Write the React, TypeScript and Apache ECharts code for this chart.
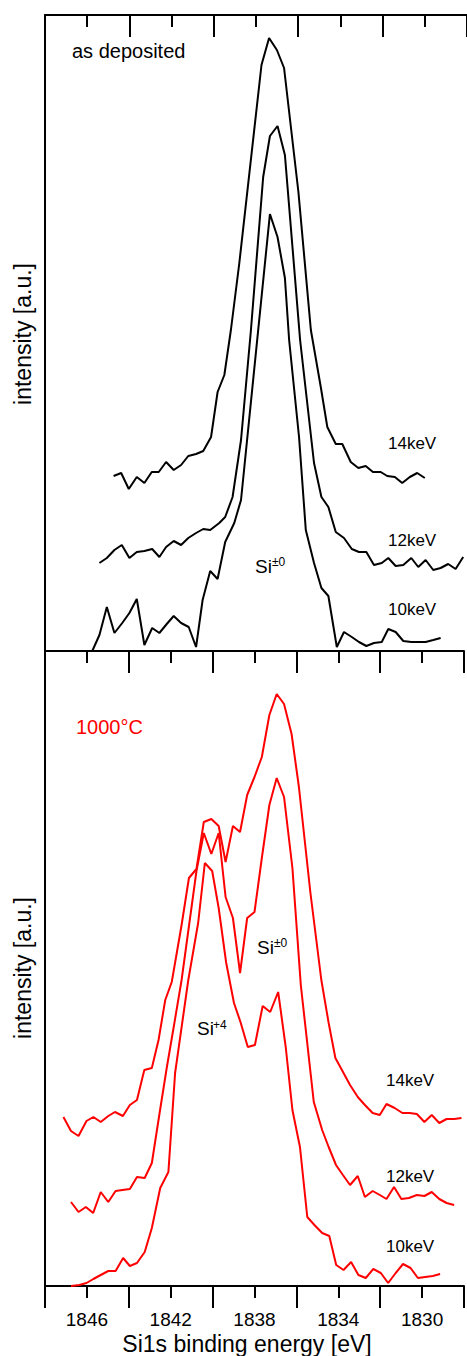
import React, { useEffect, useRef } from "react";
import * as echarts from "echarts";

const FONT = "'Liberation Sans', Arial, Helvetica, sans-serif";
const X_MIN = 1828;
const X_MAX = 1848;
const TOP_Y_MAX = 636;
const BOTTOM_Y_MAX = 635;
const TICK_LABELS = [1846, 1842, 1838, 1834, 1830];

// ---- as deposited (black) : [binding energy eV, intensity a.u.]
const asDep14keV: [number, number][] = [
  [1844.75, 175], [1844.39, 178], [1844.03, 162], [1843.65, 174], [1843.29, 168],
  [1842.94, 179], [1842.61, 179], [1842.26, 189], [1841.9, 181], [1841.55, 186],
  [1841.21, 195], [1840.84, 197], [1840.5, 200], [1840.13, 214], [1839.82, 259],
  [1839.5, 276], [1839.19, 321], [1838.79, 388], [1837.74, 586], [1837.38, 613],
  [1837.01, 601], [1836.67, 583], [1835.99, 459], [1835.4, 321], [1834.93, 264],
  [1834.62, 224], [1834.22, 207], [1833.91, 207], [1833.51, 189], [1833.15, 183],
  [1832.8, 185], [1832.46, 179], [1832.09, 179], [1831.78, 175], [1831.42, 174],
  [1831.07, 168], [1830.71, 174], [1830.36, 178], [1830.0, 173],
];
const asDep12keV: [number, number][] = [
  [1845.42, 88], [1845.07, 93], [1844.71, 101], [1844.36, 106], [1844.0, 93],
  [1843.65, 99], [1843.29, 100], [1842.92, 102], [1842.58, 94], [1842.26, 104],
  [1841.9, 110], [1841.55, 106], [1841.21, 113], [1840.84, 118], [1840.5, 122],
  [1840.17, 121], [1839.74, 128], [1839.46, 134], [1839.11, 154], [1838.71, 211],
  [1838.24, 321], [1837.66, 474], [1837.34, 515], [1836.98, 525], [1836.63, 496],
  [1835.91, 311], [1835.25, 188], [1834.9, 154], [1834.57, 144], [1834.22, 119],
  [1833.83, 113], [1833.46, 102], [1833.12, 99], [1832.77, 99], [1832.41, 86],
  [1832.04, 88], [1831.73, 93], [1831.38, 85], [1831.02, 86], [1830.64, 93],
  [1830.31, 84], [1829.96, 91], [1829.6, 81], [1829.25, 83], [1828.89, 87],
  [1828.54, 82], [1828.18, 94],
];
const asDep10keV: [number, number][] = [
  [1845.76, 0], [1845.42, 16], [1845.07, 44], [1844.71, 18], [1844.34, 28],
  [1844.0, 38], [1843.65, 52], [1843.29, 6], [1842.92, 23], [1842.58, 18],
  [1842.23, 27], [1841.9, 35], [1841.55, 28], [1841.19, 24], [1840.84, 4],
  [1840.53, 51], [1840.17, 80], [1839.82, 72], [1839.46, 109], [1839.03, 128],
  [1838.71, 151], [1837.34, 437], [1836.98, 414], [1836.63, 373], [1836.43, 311],
  [1835.96, 214], [1835.64, 121], [1835.25, 88], [1834.9, 63], [1834.57, 55],
  [1834.17, 4], [1833.83, 19], [1833.46, 14], [1833.12, 9], [1832.77, 5],
  [1832.41, 8], [1832.04, 9], [1831.73, 22], [1831.38, 19], [1831.02, 10],
  [1830.64, 9], [1830.31, 9], [1829.96, 9], [1829.6, 11], [1829.25, 13],
];

// ---- 1000°C (red)
const t1000_14keV: [number, number][] = [
  [1847.12, 169], [1846.76, 155], [1846.4, 150], [1846.02, 165], [1845.69, 169],
  [1845.34, 164], [1844.98, 170], [1844.66, 174], [1844.28, 170], [1843.95, 181],
  [1843.61, 186], [1843.26, 216], [1842.9, 218], [1842.58, 246], [1842.26, 286],
  [1841.95, 304], [1841.48, 361], [1841.13, 408], [1840.77, 417], [1840.42, 464],
  [1840.06, 467], [1839.71, 460], [1839.38, 424], [1839.03, 460], [1838.69, 454],
  [1838.35, 491], [1838.0, 509], [1837.65, 529], [1837.29, 571], [1836.94, 592],
  [1836.59, 582], [1836.23, 552], [1835.88, 499], [1835.33, 393], [1834.81, 306],
  [1834.46, 263], [1834.14, 228], [1833.75, 213], [1833.44, 201], [1833.07, 189],
  [1832.73, 181], [1832.36, 173], [1832.02, 171], [1831.7, 182], [1831.31, 178],
  [1830.94, 173], [1830.6, 173], [1830.25, 172], [1829.89, 164], [1829.54, 171],
  [1829.18, 163], [1828.83, 167], [1828.47, 167], [1828.12, 168],
];
const t1000_12keV: [number, number][] = [
  [1846.76, 84], [1846.4, 74], [1846.05, 79], [1845.7, 73], [1845.34, 94],
  [1844.98, 84], [1844.63, 95], [1844.31, 96], [1843.95, 97], [1843.61, 109],
  [1843.24, 108], [1842.9, 123], [1842.53, 173], [1842.19, 218], [1841.84, 261],
  [1841.48, 306], [1840.77, 415], [1840.42, 453], [1840.06, 432], [1839.71, 453],
  [1839.38, 389], [1839.03, 368], [1838.69, 313], [1838.35, 368], [1838.0, 374],
  [1837.65, 428], [1837.29, 481], [1836.94, 508], [1836.59, 489], [1836.19, 418],
  [1835.79, 301], [1835.17, 184], [1834.77, 156], [1834.46, 139], [1834.11, 121],
  [1833.78, 111], [1833.44, 101], [1833.07, 110], [1832.73, 89], [1832.36, 95],
  [1832.02, 91], [1831.7, 87], [1831.34, 99], [1830.99, 87], [1830.63, 88],
  [1830.25, 91], [1829.89, 90], [1829.54, 94], [1829.18, 87], [1828.83, 83],
  [1828.47, 81],
];
const t1000_10keV: [number, number][] = [
  [1846.76, 0], [1846.36, 1], [1846.02, 3], [1845.69, 7], [1845.34, 11],
  [1844.98, 15], [1844.63, 15], [1844.27, 28], [1843.95, 20], [1843.61, 23],
  [1843.24, 34], [1842.9, 58], [1842.5, 98], [1842.11, 114], [1841.79, 213],
  [1841.16, 306], [1840.69, 363], [1840.37, 423], [1840.02, 415], [1839.71, 378],
  [1839.35, 323], [1838.98, 283], [1838.67, 264], [1838.32, 239], [1837.98, 241],
  [1837.61, 280], [1837.25, 274], [1836.87, 294], [1836.51, 239], [1836.19, 176],
  [1835.83, 139], [1835.48, 69], [1835.14, 61], [1834.77, 53], [1834.43, 50],
  [1834.1, 21], [1833.75, 16], [1833.39, 24], [1833.04, 11], [1832.69, 8],
  [1832.33, 17], [1831.97, 13], [1831.62, 3], [1831.26, 13], [1830.91, 22],
  [1830.55, 18], [1830.2, 8], [1829.85, 9], [1829.49, 10], [1829.14, 12],
];

function xAxisDef(
  gridIndex: number,
  position: "top" | "bottom",
  interval: number,
  tickLen: number,
  showLine: boolean,
  showLabel: boolean
) {
  return {
    type: "value",
    gridIndex,
    position,
    min: X_MIN,
    max: X_MAX,
    interval,
    inverse: true,
    axisLine: { show: showLine, onZero: false, lineStyle: { color: "#000", width: 2 } },
    axisTick: {
      show: true,
      inside: position === "top",
      length: tickLen,
      lineStyle: { color: "#000", width: 2 },
    },
    axisLabel: {
      show: showLabel,
      margin: 24,
      fontSize: 19,
      color: "#000",
      fontFamily: FONT,
      formatter: (v: number) => (TICK_LABELS.indexOf(Math.round(v)) >= 0 ? String(Math.round(v)) : ""),
    },
    splitLine: { show: false },
  };
}

function yAxisDef(gridIndex: number, max: number) {
  return {
    type: "value",
    gridIndex,
    min: 0,
    max,
    axisLine: { show: true, onZero: false, lineStyle: { color: "#000", width: 2 } },
    axisTick: { show: false },
    axisLabel: { show: false },
    splitLine: { show: false },
  };
}

function lineSeries(name: string, data: [number, number][], xi: number, yi: number, color: string) {
  return {
    name,
    type: "line",
    xAxisIndex: xi,
    yAxisIndex: yi,
    data,
    showSymbol: false,
    symbol: "none",
    silent: true,
    lineStyle: { color, width: 2 },
    z: 3,
  };
}

function label(text: string, x: number, y: number, size: number, color = "#000") {
  return {
    type: "text",
    x,
    y,
    silent: true,
    style: {
      text,
      fill: color,
      font: `${size}px ${FONT}`,
      textAlign: "left",
      textVerticalAlign: "middle",
    },
  };
}

export default function App() {
  const ref = useRef<HTMLDivElement>(null);
  useEffect(() => {
    document.body.style.margin = "0";
    const chart = echarts.init(ref.current!, null, { renderer: "svg" });
    const BLACK = "#000000";
    const RED = "#ff0000";
    chart.setOption({
      animation: false,
      backgroundColor: "#ffffff",
      grid: [
        { left: 45, top: 15, width: 423, height: 636 },
        { left: 45, top: 651, width: 423, height: 635 },
      ],
      xAxis: [
        xAxisDef(0, "top", 4, 22, true, false),
        xAxisDef(0, "top", 2, 12, false, false),
        xAxisDef(1, "top", 4, 22, true, false),
        xAxisDef(1, "top", 2, 12, false, false),
        xAxisDef(1, "bottom", 4, 22, true, false),
        xAxisDef(1, "bottom", 2, 12, false, true),
      ],
      yAxis: [yAxisDef(0, TOP_Y_MAX), yAxisDef(1, BOTTOM_Y_MAX)],
      series: [
        lineSeries("as deposited 14keV", asDep14keV, 0, 0, BLACK),
        lineSeries("as deposited 12keV", asDep12keV, 0, 0, BLACK),
        lineSeries("as deposited 10keV", asDep10keV, 0, 0, BLACK),
        lineSeries("1000°C 14keV", t1000_14keV, 4, 1, RED),
        lineSeries("1000°C 12keV", t1000_12keV, 4, 1, RED),
        lineSeries("1000°C 10keV", t1000_10keV, 4, 1, RED),
      ],
      graphic: [
        label("as deposited", 72, 51, 20),
        label("14keV", 388, 443, 17),
        label("12keV", 388, 540, 17),
        label("10keV", 388, 609.5, 17),
        label("Si", 255, 566, 19),
        label("±0", 272, 562, 12),
        label("1000°C", 76, 726.5, 20, RED),
        label("Si", 257, 947, 19),
        label("±0", 274, 943, 12),
        label("Si", 197, 1028.5, 19),
        label("+4", 213, 1025, 12),
        label("14keV", 386, 1080, 17),
        label("12keV", 386, 1176.5, 17),
        label("10keV", 386, 1246.5, 17),
        {
          type: "text",
          x: 23,
          y: 334,
          rotation: Math.PI / 2,
          silent: true,
          style: {
            text: "intensity [a.u.]",
            fill: "#000",
            font: `23px ${FONT}`,
            textAlign: "center",
            textVerticalAlign: "middle",
          },
        },
        {
          type: "text",
          x: 23,
          y: 968,
          rotation: Math.PI / 2,
          silent: true,
          style: {
            text: "intensity [a.u.]",
            fill: "#000",
            font: `23px ${FONT}`,
            textAlign: "center",
            textVerticalAlign: "middle",
          },
        },
        {
          type: "text",
          x: 247,
          y: 1344,
          silent: true,
          style: {
            text: "Si1s binding energy [eV]",
            fill: "#000",
            font: `23px ${FONT}`,
            textAlign: "center",
            textVerticalAlign: "middle",
          },
        },
      ],
    });
    return () => chart.dispose();
  }, []);
  return <div ref={ref} style={{ width: 467, height: 1356 }} />;
}
